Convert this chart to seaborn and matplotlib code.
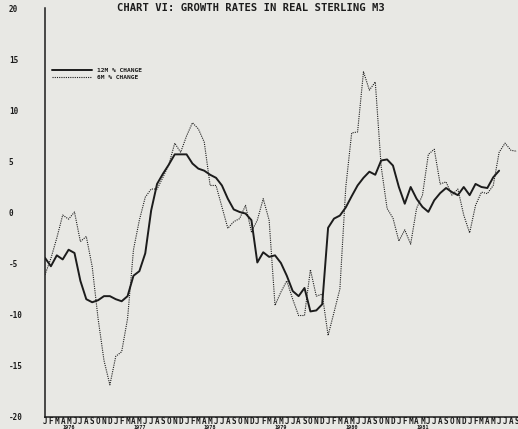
import numpy as np
import pandas as pd
import matplotlib
matplotlib.use("Agg")
import matplotlib.pyplot as plt
import seaborn as sns
from matplotlib.transforms import blended_transform_factory

# ---------------- data ----------------
month_letters = ["J", "F", "M", "A", "M", "J", "J", "A", "S", "O", "N", "D"]
n_months = 81  # Jan 1976 .. Sep 1982
year_labels = ["1976", "1977", "1978", "1979", "1980", "1981"]

change_12m = [
    -4.45, -5.27, -4.2, -4.6, -3.65, -3.97, -6.7, -8.5, -8.8, -8.6,
    -8.2, -8.2, -8.5, -8.7, -8.2, -6.2, -5.75, -4.0, 0.2, 2.8,
    3.8, 4.7, 5.7, 5.7, 5.7, 4.8, 4.3, 4.1, 3.7, 3.4,
    2.65, 1.35, 0.3, 0.05, -0.1, -0.75, -4.9, -3.9, -4.35, -4.2,
    -4.95, -6.2, -7.7, -8.2, -7.4, -9.7, -9.6, -9.0, -1.5, -0.6,
    -0.3, 0.5, 1.6, 2.65, 3.4, 4.0, 3.7, 5.1, 5.2, 4.6,
    2.5, 0.86, 2.5, 1.35, 0.55, 0.06, 1.2, 1.9, 2.4, 2.0,
    1.7, 2.5, 1.7, 2.8, 2.5, 2.4, 3.45, 4.1,
]

change_6m = [
    -6.1, -4.5, -2.5, -0.25, -0.65, 0.05, -2.85, -2.35, -5.3, -10.4,
    -14.5, -16.9, -14.1, -13.65, -10.4, -3.65, -0.75, 1.5, 2.3, 2.3,
    3.45, 4.7, 6.8, 5.9, 7.5, 8.8, 8.2, 6.9, 2.65, 2.65,
    0.55, -1.55, -0.9, -0.6, 0.7, -1.9, -0.75, 1.35, -0.75, -9.1,
    -7.8, -6.7, -8.5, -10.1, -10.1, -5.6, -8.2, -8.0, -12.05, -9.8,
    -7.5, 2.5, 7.8, 7.9, 13.8, 12.0, 12.8, 4.5, 0.4, -0.55,
    -2.8, -1.7, -3.1, 0.4, 1.7, 5.7, 6.2, 2.8, 3.0, 1.7,
    2.3, -0.25, -2.0, 0.7, 2.0, 1.85, 2.65, 5.9, 6.8, 6.1,
    6.0,
]

months = np.arange(n_months)
tick_labels = [month_letters[i % 12] for i in months]
df12 = pd.DataFrame({"month": months[:len(change_12m)], "value": change_12m})
df6 = pd.DataFrame({"month": months[:len(change_6m)], "value": change_6m})

# ---------------- style ----------------
BG = "#e8e8e4"
INK = "#1c1c1c"
sns.set_theme(style="white")
plt.rcParams["font.family"] = ["DejaVu Sans Mono", "DejaVu Sans"]
plt.rcParams["font.weight"] = "bold"

W, H = 518, 429
fig = plt.figure(figsize=(W / 100, H / 100), dpi=100, facecolor=BG)
ax = fig.add_axes([45 / W, 12.5 / H, 473 / W, 408 / H])
ax.set_facecolor(BG)

sns.lineplot(data=df12, x="month", y="value", ax=ax, color=INK,
             linewidth=1.4, label="12M % CHANGE")
sns.lineplot(data=df6, x="month", y="value", ax=ax, color=INK,
             linewidth=0.8, linestyle=(0, (1, 1)), label="6M % CHANGE")

ax.set_xlim(0, 80.2)
ax.set_ylim(-20, 20)
ax.set_xlabel("")
ax.set_ylabel("")

for s in ["top", "right"]:
    ax.spines[s].set_visible(False)
for s in ["left", "bottom"]:
    ax.spines[s].set_color(INK)
    ax.spines[s].set_linewidth(1.1)

ax.set_yticks(np.arange(-20, 21, 5))
ax.set_yticklabels([str(v) for v in range(-20, 21, 5)])
ax.tick_params(axis="y", direction="out", length=2, width=0.8, color=INK,
               pad=24, labelsize=5.5, labelcolor=INK)
for lab in ax.get_yticklabels():
    lab.set_horizontalalignment("left")
    lab.set_fontweight("bold")

ax.set_xticks(months)
ax.set_xticklabels(tick_labels)
ax.tick_params(axis="x", length=0, pad=0.5, labelsize=5.5, labelcolor=INK)
for lab in ax.get_xticklabels():
    lab.set_fontweight("bold")

trans = blended_transform_factory(ax.transData, ax.transAxes)
for k, yl in enumerate(year_labels):
    ax.text(12 * k + 4, -0.02, yl, transform=trans, ha="center", va="top",
            fontsize=3.8, color=INK, fontweight="bold")

leg = ax.legend(loc="upper left", bbox_to_anchor=(0.015, 0.855), frameon=False,
                fontsize=4.5, handlelength=6.4, handletextpad=0.8,
                borderpad=0, borderaxespad=0, labelspacing=0.25)
for t in leg.get_texts():
    t.set_color(INK)
    t.set_fontweight("bold")

fig.text(0.485, 0.981, "CHART VI: GROWTH RATES IN REAL STERLING M3",
         ha="center", va="center", fontsize=7.6, fontweight="bold", color=INK)

fig.savefig("out.png", dpi=100, facecolor=BG)
